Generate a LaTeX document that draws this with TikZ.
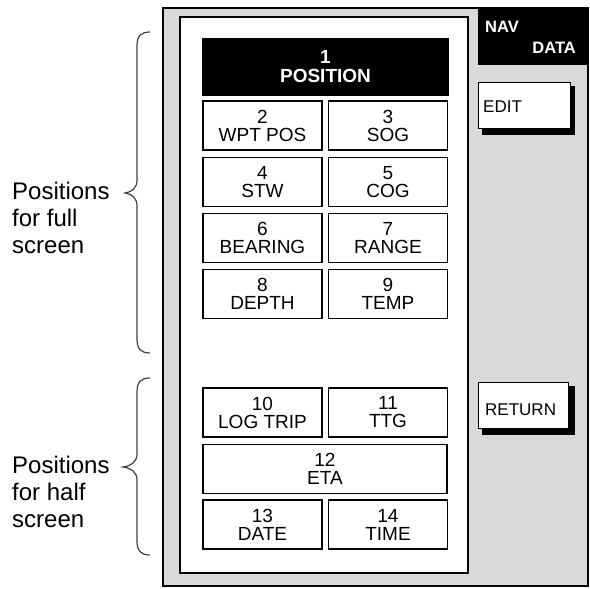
\documentclass[tikz,border=0pt]{standalone}
\usepackage{fontspec}
\setmainfont{Liberation Sans}
\begin{document}
\begin{tikzpicture}[x=1pt,y=-1pt,
  cell/.style={draw=black,line width=1.8pt,fill=white,minimum width=119pt,minimum height=49pt,inner sep=0pt,align=center,font=\fontsize{19}{18}\selectfont},
  widecell/.style={cell,minimum width=244pt},
  btnshadow/.style={fill=black},
  btn/.style={draw=black,line width=0.8pt,fill=white},
  btntext/.style={anchor=base west,inner sep=0pt,font=\fontsize{17}{17}\selectfont},
  bracepath/.style={draw=black!75,line width=1.2pt},
  sidelabel/.style={anchor=base west,inner sep=0pt,align=left,font=\fontsize{24}{27}\selectfont}]
\useasboundingbox (0,0) rectangle (590,589);
% outer gray frame
\draw[line width=2pt,fill=black!15] (163,8) rectangle (588,586);
% white panel
\draw[line width=2pt,fill=white] (180,17) rectangle (468,573);
% NAV DATA
\fill[black] (478,8) rectangle (588,65);
\node[anchor=base west,inner sep=0pt,text=white,font=\fontsize{16.5}{16.5}\selectfont\bfseries] (nav) at (485,32) {NAV};
\node[anchor=base east,inner sep=0pt,text=white,font=\fontsize{16.5}{16.5}\selectfont\bfseries] (data) at (576,53) {DATA};
% EDIT button
\fill[btnshadow] (482,86) rectangle (575,135);
\draw[btn] (478,82) rectangle (570,128);
\node[btntext] (edit) at (483,112) {EDIT};
% RETURN button
\fill[btnshadow] (482,386) rectangle (575,435);
\draw[btn] (478,382) rectangle (568,428);
\node[btntext] (return) at (485,415) {RETURN};
% POSITION
\node[fill=black,minimum width=247pt,minimum height=58pt,inner sep=0pt,align=center,text=white,font=\fontsize{19}{19}\selectfont\bfseries] (c1) at (325.5,67) {1\\POSITION};
% cells
\node[cell] (c2) at (262.5,125.5) {2\\WPT POS};
\node[cell] (c3) at (388,125.5) {3\\SOG};
\node[cell] (c4) at (262.5,182) {4\\STW};
\node[cell] (c5) at (388,182) {5\\COG};
\node[cell] (c6) at (262.5,238) {6\\BEARING};
\node[cell] (c7) at (388,238) {7\\RANGE};
\node[cell] (c8) at (262.5,294) {8\\DEPTH};
\node[cell] (c9) at (388,294) {9\\TEMP};
\node[cell] (c10) at (262.5,412.5) {10\\LOG TRIP};
\node[cell] (c11) at (388,412.5) {11\\TTG};
\node[widecell] (c12) at (325,469) {12\\ETA};
\node[cell] (c13) at (262.5,524.5) {13\\DATE};
\node[cell] (c14) at (388,524.5) {14\\TIME};
% braces
\draw[bracepath] (150,32) .. controls (141,32) and (137,36) .. (137,46) -- (137,180) .. controls (137,188) and (132,192) .. (125,193) .. controls (132,194) and (137,198) .. (137,206) -- (137,339) .. controls (137,349) and (141,353) .. (150,353);
\draw[bracepath] (150,378) .. controls (141,378) and (137,382) .. (137,392) -- (137,454) .. controls (137,462) and (131,466) .. (123,467) .. controls (131,468) and (137,472) .. (137,480) -- (137,541) .. controls (137,551) and (141,555) .. (150,555);
% labels
\node[sidelabel] (full) at (12,253) {Positions\\for full\\screen};
\node[sidelabel] (half) at (12,527) {Positions\\for half\\screen};
\end{tikzpicture}
\end{document}
